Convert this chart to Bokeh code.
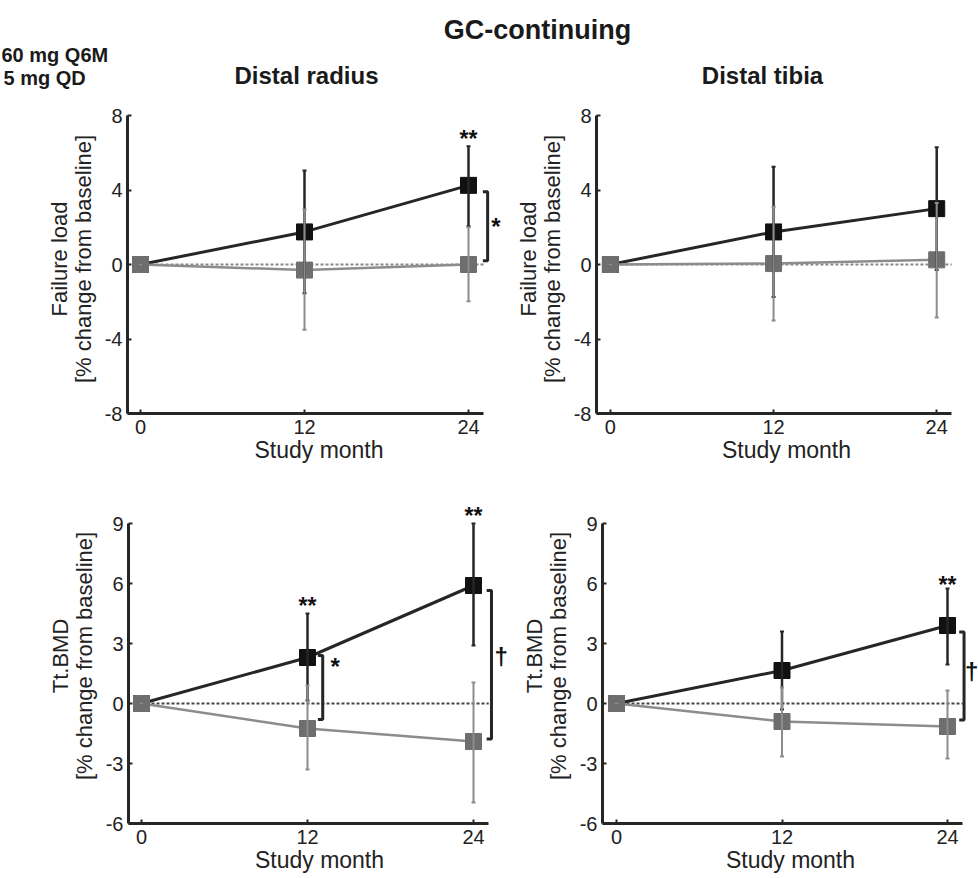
from bokeh.plotting import figure
from bokeh.layouts import column, row
from bokeh.models import Range1d, Label, FixedTicker, Whisker, TeeHead, ColumnDataSource
from bokeh.core.properties import value
from bokeh.embed import file_html
from bokeh.resources import INLINE

FONT = "Liberation Sans"

# ---------------- data ----------------
months = [0, 12, 24]
x_ticks = [0, 12, 24]
x_tick_labels = ["0", "12", "24"]
fl_ticks = [-8, -4, 0, 4, 8]
fl_tick_labels = ["-8", "-4", "0", "4", "8"]
bmd_ticks = [-6, -3, 0, 3, 6, 9]
bmd_tick_labels = ["-6", "-3", "0", "3", "6", "9"]

main_title = "GC-continuing"
site_titles = ["Distal radius", "Distal tibia"]
legend_labels = ["60 mg Q6M", "5 mg QD"]
x_label = "Study month"
fl_label = "Failure load\n[% change from baseline]"
bmd_label = "Tt.BMD\n[% change from baseline]"

# Distal radius - failure load
rad_fl_dmab = [0.0, 1.75, 4.25]
rad_fl_dmab_lo = [0.0, -1.55, 2.05]
rad_fl_dmab_hi = [0.0, 5.05, 6.35]
rad_fl_ris = [0.0, -0.3, 0.0]
rad_fl_ris_lo = [0.0, -3.5, -1.97]
rad_fl_ris_hi = [0.0, 2.95, 2.0]

# Distal tibia - failure load
tib_fl_dmab = [0.0, 1.75, 3.0]
tib_fl_dmab_lo = [0.0, -1.75, -0.3]
tib_fl_dmab_hi = [0.0, 5.25, 6.3]
tib_fl_ris = [0.0, 0.05, 0.25]
tib_fl_ris_lo = [0.0, -3.0, -2.85]
tib_fl_ris_hi = [0.0, 3.1, 3.3]

# Distal radius - Tt.BMD
rad_bmd_dmab = [0.0, 2.3, 5.9]
rad_bmd_dmab_lo = [0.0, 0.15, 2.9]
rad_bmd_dmab_hi = [0.0, 4.5, 9.0]
rad_bmd_ris = [0.0, -1.25, -1.9]
rad_bmd_ris_lo = [0.0, -3.3, -4.95]
rad_bmd_ris_hi = [0.0, 0.9, 1.05]

# Distal tibia - Tt.BMD
tib_bmd_dmab = [0.0, 1.65, 3.9]
tib_bmd_dmab_lo = [0.0, -0.3, 1.95]
tib_bmd_dmab_hi = [0.0, 3.6, 5.75]
tib_bmd_ris = [0.0, -0.9, -1.15]
tib_bmd_ris_lo = [0.0, -2.65, -2.75]
tib_bmd_ris_hi = [0.0, 0.8, 0.65]

# significance marks above points (x, y, text)
rad_fl_stars = ([24], [6.75], ["**"])
tib_fl_stars = ([], [], [])
rad_bmd_stars = ([12, 24], [4.9, 9.4], ["**", "**"])
tib_bmd_stars = ([24], [5.95], ["**"])

# between-group brackets (x, top, bottom, label x, label y, label)
rad_fl_br = ([25.4], [3.9], [0.2], [26.0], [2.05], ["*"])
tib_fl_br = ([], [], [], [], [], [])
rad_bmd_br = ([13.1, 25.3], [2.4, 5.65], [-0.8, -1.77], [14.0, 26.0], [1.85, 2.35], ["*", "\u2020"])
tib_bmd_br = ([25.2], [3.57], [-0.82], [25.75], [1.6], ["\u2020"])

# ---------------- layout (page pixels) ----------------
X_AXIS_END = 25.1
BLACK = "#111111"
BLACK_LINE = "#262626"
GRAY = "#6e6e6e"
GRAY_LINE = "#8c8c8c"
TXT = "#222222"

LAYOUT = {
    "TL": dict(cx=0, cy=100, w=512, h=380, fl=127, fr=510, ft=104, x0=140, x24=468, yt=115, yb=413),
    "TR": dict(cx=512, cy=100, w=466, h=380, fl=594, fr=976, ft=104, x0=608, x24=936, yt=115, yb=413),
    "BL": dict(cx=0, cy=480, w=512, h=398, fl=128, fr=510, ft=488, x0=141, x24=473, yt=523, yb=823),
    "BR": dict(cx=512, cy=480, w=466, h=398, fl=602, fr=978, ft=488, x0=616, x24=947, yt=523, yb=823),
}


def make_panel(L, ylabel, yticks, yticklabels, dmab, ris, stars, brackets, zero_col):
    sx = (L["x24"] - L["x0"]) / 24.0
    xs = (L["fl"] - L["x0"]) / sx
    xe = (L["fr"] - L["x0"]) / sx
    ylo, yhi = yticks[0], yticks[-1]
    sy = (L["yb"] - L["yt"]) / (yhi - ylo)
    ye = yhi + (L["yt"] - L["ft"]) / sy
    p = figure(width=L["w"], height=L["h"],
               x_range=Range1d(xs, xe), y_range=Range1d(ylo, ye),
               output_backend="svg", toolbar_location=None, tools="",
               min_border_left=L["fl"] - L["cx"],
               min_border_right=L["cx"] + L["w"] - L["fr"],
               min_border_top=L["ft"] - L["cy"],
               min_border_bottom=L["cy"] + L["h"] - L["yb"])
    p.grid.visible = False
    p.outline_line_color = None
    p.background_fill_color = "white"
    p.border_fill_color = "white"

    p.xaxis.bounds = (xs, X_AXIS_END)
    p.yaxis.bounds = (ylo, yhi)
    p.xaxis.ticker = FixedTicker(ticks=x_ticks)
    p.xaxis.major_label_overrides = dict(zip(x_ticks, x_tick_labels))
    p.yaxis.ticker = FixedTicker(ticks=yticks)
    p.yaxis.major_label_overrides = dict(zip(yticks, yticklabels))
    p.xaxis.axis_label = x_label
    p.yaxis.axis_label = ylabel
    for ax in (p.xaxis, p.yaxis):
        ax.axis_line_width = 3
        ax.axis_line_color = BLACK_LINE
        ax.major_tick_in = 4
        ax.major_tick_out = 0
        ax.major_tick_line_width = 2
        ax.major_tick_line_color = BLACK_LINE
        ax.minor_tick_line_color = None
        ax.major_label_text_font = FONT
        ax.major_label_text_font_size = "20px"
        ax.major_label_text_color = TXT
        ax.axis_label_text_font = FONT
        ax.axis_label_text_font_style = "normal"
        ax.axis_label_text_color = TXT
    p.xaxis.axis_label_text_font_size = "23px"
    p.yaxis.axis_label_text_font_size = "22px"
    p.yaxis.axis_label_text_line_height = 0.95
    p.xaxis.major_label_standoff = 6
    p.xaxis.axis_label_standoff = 0
    p.yaxis.major_label_standoff = 5
    p.yaxis.axis_label_standoff = 6

    # zero reference line
    p.segment(x0=months[0], y0=0, x1=X_AXIS_END, y1=0, line_color=zero_col,
              line_width=2, line_dash="3 2")

    src_d = ColumnDataSource(dict(x=months, y=dmab[0], lo=dmab[1], hi=dmab[2]))
    src_r = ColumnDataSource(dict(x=months, y=ris[0], lo=ris[1], hi=ris[2]))

    p.line("x", "y", source=src_d, line_color=BLACK_LINE, line_width=3)
    p.line("x", "y", source=src_r, line_color=GRAY_LINE, line_width=2.5)
    for src, col, lw in ((src_d, BLACK_LINE, 2.5), (src_r, GRAY_LINE, 2)):
        w = Whisker(base="x", lower="lo", upper="hi", source=src, line_color=col,
                    line_width=lw, level="glyph",
                    upper_head=TeeHead(size=4, line_color=col, line_width=2),
                    lower_head=TeeHead(size=4, line_color=col, line_width=2))
        p.add_layout(w)
    p.scatter("x", "y", source=src_d, marker="square", size=16,
              fill_color=BLACK, line_color=BLACK, line_width=1)
    p.scatter("x", "y", source=src_r, marker="square", size=16,
              fill_color=GRAY, line_color=GRAY, line_width=1)

    # significance
    sxs, sys_, stx = stars
    if sxs:
        p.text(x=sxs, y=sys_, text=stx, text_font=value(FONT), text_font_size="23px",
               text_font_style="bold", text_align="center", text_baseline="middle",
               text_color=BLACK)
    bx, btop, bbot, lx, ly, lt = brackets
    if bx:
        d = 0.35
        p.multi_line(xs=[[b - d, b, b, b - d] for b in bx],
                     ys=[[t, t, bo, bo] for t, bo in zip(btop, bbot)],
                     line_color=BLACK_LINE, line_width=3)
        p.text(x=lx, y=ly, text=lt, text_font=value(FONT), text_font_size="24px",
               text_font_style="bold", text_align="center", text_baseline="middle",
               text_color=BLACK)
    return p


tl = make_panel(LAYOUT["TL"], fl_label, fl_ticks, fl_tick_labels,
                (rad_fl_dmab, rad_fl_dmab_lo, rad_fl_dmab_hi),
                (rad_fl_ris, rad_fl_ris_lo, rad_fl_ris_hi), rad_fl_stars, rad_fl_br, "#888888")
tr = make_panel(LAYOUT["TR"], fl_label, fl_ticks, fl_tick_labels,
                (tib_fl_dmab, tib_fl_dmab_lo, tib_fl_dmab_hi),
                (tib_fl_ris, tib_fl_ris_lo, tib_fl_ris_hi), tib_fl_stars, tib_fl_br, "#888888")
bl = make_panel(LAYOUT["BL"], bmd_label, bmd_ticks, bmd_tick_labels,
                (rad_bmd_dmab, rad_bmd_dmab_lo, rad_bmd_dmab_hi),
                (rad_bmd_ris, rad_bmd_ris_lo, rad_bmd_ris_hi), rad_bmd_stars, rad_bmd_br, "#444444")
br = make_panel(LAYOUT["BR"], bmd_label, bmd_ticks, bmd_tick_labels,
                (tib_bmd_dmab, tib_bmd_dmab_lo, tib_bmd_dmab_hi),
                (tib_bmd_ris, tib_bmd_ris_lo, tib_bmd_ris_hi), tib_bmd_stars, tib_bmd_br, "#444444")

# header with overall title, column titles and legend text
HEADER_H = 100
header = figure(width=978, height=HEADER_H, x_range=Range1d(0, 1), y_range=Range1d(0, 1),
                output_backend="svg", toolbar_location=None, tools="", min_border=0)
header.xaxis.visible = False
header.yaxis.visible = False
header.grid.visible = False
header.outline_line_color = None


def hlabel(x, y_from_top, text, size, bold=True, align="center"):
    header.add_layout(Label(x=x, y=HEADER_H - y_from_top, x_units="screen", y_units="screen",
                            text=text, text_font=FONT, text_font_size=size,
                            text_font_style="bold" if bold else "normal",
                            text_align=align, text_baseline="middle", text_color="#1a1a1a"))


hlabel(537, 29, main_title, "27px")
hlabel(306, 75, site_titles[0], "24px")
hlabel(762, 75, site_titles[1], "24px")
hlabel(1, 54, legend_labels[0], "20px", bold=True, align="left")
hlabel(3, 77, legend_labels[1], "20px", bold=True, align="left")

layout = column(header, row(tl, tr), row(bl, br))
open("out.html", "w").write(file_html(layout, INLINE))
